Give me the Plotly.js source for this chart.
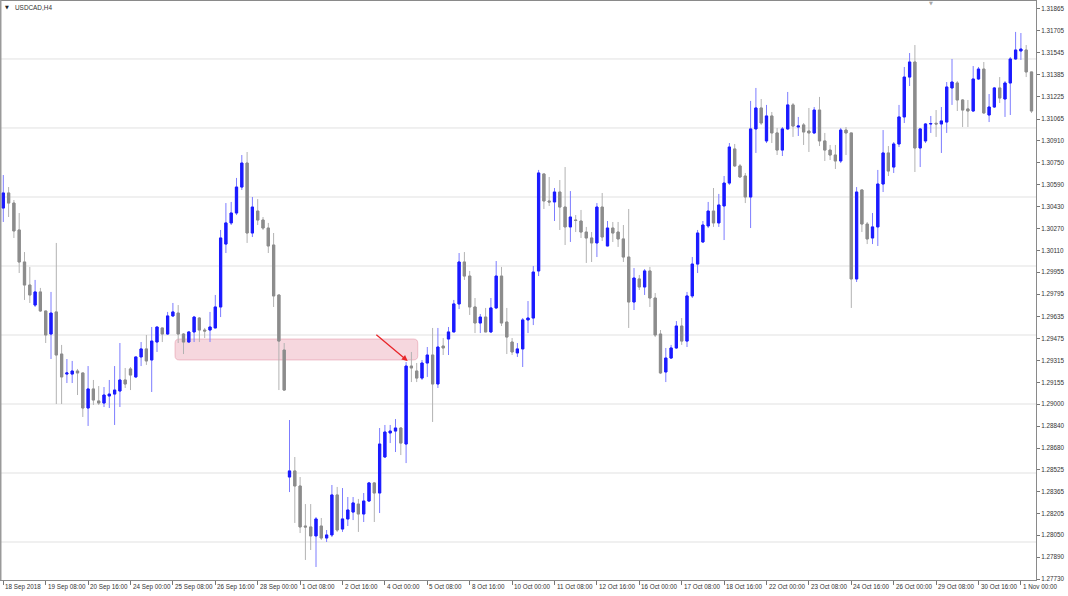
<!DOCTYPE html>
<html><head><meta charset="utf-8">
<script src="https://cdn.plot.ly/plotly-3.0.1.min.js"></script>
<style>html,body{margin:0;padding:0;background:#fff;}#chart{width:1068px;height:596px;}</style>
</head><body><div id="chart"></div>
<script>
// USDCAD H4 bars, 18 Sep 2018 00:00 .. 1 Nov 2018 08:00 (one entry per bar)
const openP = [
1.30420,1.30529,1.30456,1.30261,1.30029,1.29862,1.29717,1.29812,1.29674,1.29507,
1.29667,1.29362,1.29217,1.29217,1.29239,1.29225,1.28971,1.29109,1.29022,1.29007,
1.29058,1.29072,1.29094,1.29174,1.29254,1.29196,1.29341,1.29399,1.29319,1.29449,
1.29551,1.29507,1.29638,1.29659,1.29507,1.29449,1.29522,1.29623,1.29536,1.29536,
1.29551,1.29703,1.30159,1.30312,1.30384,1.30572,1.30746,1.30239,1.30398,1.30333,
1.30275,1.30152,1.29790,1.29391,1.28471,1.28515,1.28406,1.28116,1.28109,1.28044,
1.28116,1.28029,1.28051,1.28341,1.28094,1.28167,1.28217,1.28275,1.28203,1.28297,
1.28428,1.28355,1.28616,1.28790,1.28804,1.28826,1.28710,1.29275,1.29239,1.29188,
1.29297,1.29355,1.29145,1.29420,1.29471,1.29522,1.29725,1.30029,1.29927,1.29703,
1.29587,1.29630,1.29522,1.29696,1.29927,1.29594,1.29449,1.29370,1.29399,1.29609,
1.29623,1.29964,1.30667,1.30471,1.30464,1.30536,1.30427,1.30283,1.30333,1.30326,
1.30246,1.30203,1.30167,1.30427,1.30145,1.30275,1.30246,1.30196,1.30065,1.29739,
1.29906,1.29848,1.29964,1.29768,1.29507,1.29232,1.29333,1.29406,1.29565,1.29456,
1.29783,1.30014,1.30174,1.30290,1.30398,1.30312,1.30435,1.30601,1.30848,1.30725,
1.30652,1.30500,1.30993,1.31145,1.30906,1.31087,1.30964,1.30840,1.30993,1.31167,
1.31007,1.31022,1.30978,1.30964,1.31130,1.30906,1.30840,1.30804,1.30761,1.30985,
1.30964,1.29906,1.30551,1.30304,1.30203,1.30283,1.30594,1.30819,1.30717,1.30884,
1.31080,1.31369,1.31478,1.30855,1.30906,1.31029,1.31034,1.31029,1.31043,1.31290,
1.31326,1.31203,1.31138,1.31123,1.31355,1.31427,1.31094,1.31152,1.31290,1.31210,
1.31326,1.31500,1.31558,1.31565,1.31406];
const highP = [
1.30659,1.30572,1.30478,1.30384,1.30101,1.29993,1.29899,1.29841,1.29674,1.29812,
1.30167,1.29428,1.29326,1.29312,1.29254,1.29225,1.29275,1.29174,1.29130,1.29123,
1.29174,1.29275,1.29442,1.29261,1.29268,1.29341,1.29449,1.29500,1.29558,1.29558,
1.29551,1.29667,1.29732,1.29717,1.29514,1.29529,1.29638,1.29630,1.29551,1.29667,
1.29790,1.30261,1.30456,1.30464,1.30638,1.30804,1.30826,1.30500,1.30485,1.30355,
1.30312,1.30239,1.29790,1.29442,1.28884,1.28616,1.28471,1.28275,1.28275,1.28181,
1.28174,1.28087,1.28413,1.28399,1.28391,1.28326,1.28326,1.28312,1.28355,1.28435,
1.28435,1.28826,1.28848,1.28848,1.28891,1.28833,1.29304,1.29377,1.29297,1.29319,
1.29413,1.29551,1.29551,1.29478,1.29558,1.29754,1.30094,1.30101,1.29964,1.29768,
1.29652,1.29696,1.29768,1.30036,1.29993,1.29696,1.29478,1.29442,1.29623,1.29746,
1.30000,1.30696,1.30667,1.30645,1.30565,1.30623,1.30717,1.30543,1.30369,1.30406,
1.30283,1.30246,1.30456,1.30529,1.30326,1.30319,1.30319,1.30297,1.30413,1.29985,
1.29935,1.29978,1.29993,1.29804,1.29536,1.29406,1.29428,1.29601,1.29623,1.29812,
1.30065,1.30261,1.30326,1.30464,1.30565,1.30522,1.30652,1.30891,1.30884,1.30739,
1.30674,1.31196,1.31290,1.31210,1.31167,1.31116,1.31000,1.31007,1.31261,1.31181,
1.31080,1.31036,1.31145,1.31152,1.31225,1.30964,1.30877,1.30877,1.31000,1.31007,
1.30964,1.30572,1.30551,1.30319,1.30384,1.30696,1.30985,1.30869,1.30898,1.31167,
1.31442,1.31543,1.31601,1.31000,1.31036,1.31087,1.31130,1.31152,1.31333,1.31500,
1.31340,1.31210,1.31203,1.31449,1.31442,1.31478,1.31246,1.31297,1.31369,1.31340,
1.31514,1.31696,1.31688,1.31601,1.31406];
const lowP = [
1.30319,1.30355,1.30203,1.29949,1.29754,1.29732,1.29703,1.29667,1.29442,1.29326,
1.29000,1.29000,1.29152,1.29152,1.29065,1.28906,1.28841,1.28993,1.28993,1.28978,
1.28971,1.28848,1.28978,1.29116,1.29101,1.29188,1.29275,1.29283,1.29087,1.29377,
1.29449,1.29500,1.29630,1.29442,1.29362,1.29442,1.29449,1.29449,1.29478,1.29449,
1.29551,1.29630,1.30094,1.30297,1.30369,1.30551,1.30167,1.30210,1.30297,1.30261,
1.30094,1.29703,1.29101,1.29094,1.28362,1.28138,1.28065,1.27870,1.27942,1.27819,
1.28015,1.28000,1.28036,1.28073,1.28073,1.28116,1.28159,1.28073,1.28145,1.28290,
1.28145,1.28210,1.28609,1.28717,1.28652,1.28630,1.28572,1.29159,1.29159,1.29174,
1.29196,1.28870,1.29116,1.29355,1.29355,1.29522,1.29688,1.29899,1.29645,1.29514,
1.29514,1.29522,1.29514,1.29688,1.29565,1.29362,1.29355,1.29341,1.29268,1.29514,
1.29572,1.29927,1.30413,1.30435,1.30326,1.30261,1.30152,1.30174,1.30246,1.30203,
1.30022,1.30029,1.30065,1.30181,1.30145,1.30174,1.30138,1.30029,1.29551,1.29681,
1.29826,1.29790,1.29703,1.29485,1.29217,1.29159,1.29326,1.29399,1.29428,1.29413,
1.29768,1.29949,1.30167,1.30275,1.30283,1.30283,1.30188,1.30587,1.30717,1.30638,
1.30456,1.30275,1.30819,1.31022,1.30891,1.30891,1.30804,1.30797,1.30985,1.30935,
1.30942,1.30877,1.30826,1.30956,1.30869,1.30761,1.30768,1.30703,1.30746,1.30804,
1.29696,1.29884,1.30246,1.30159,1.30159,1.30145,1.30536,1.30652,1.30674,1.30862,
1.31036,1.31304,1.30681,1.30717,1.30891,1.30964,1.30935,1.30819,1.30964,1.31167,
1.31123,1.31007,1.31007,1.31116,1.31348,1.31101,1.31043,1.31145,1.31181,1.31080,
1.31094,1.31493,1.31493,1.31369,1.31109];
const closeP = [
1.30529,1.30456,1.30254,1.30029,1.29862,1.29790,1.29812,1.29674,1.29500,1.29659,
1.29355,1.29196,1.29225,1.29239,1.29225,1.28971,1.29109,1.29029,1.29007,1.29065,
1.29072,1.29101,1.29174,1.29145,1.29210,1.29341,1.29399,1.29312,1.29456,1.29558,
1.29507,1.29638,1.29667,1.29507,1.29449,1.29522,1.29630,1.29536,1.29529,1.29558,
1.29703,1.30203,1.30312,1.30384,1.30572,1.30746,1.30239,1.30427,1.30333,1.30275,
1.30145,1.29783,1.29456,1.29101,1.28515,1.28406,1.28109,1.28109,1.28044,1.28167,
1.28029,1.28051,1.28341,1.28087,1.28167,1.28232,1.28283,1.28203,1.28297,1.28428,
1.28355,1.28710,1.28797,1.28804,1.28826,1.28717,1.29275,1.29261,1.29188,1.29297,
1.29355,1.29145,1.29413,1.29406,1.29522,1.29725,1.30029,1.29927,1.29703,1.29587,
1.29630,1.29522,1.29696,1.29927,1.29587,1.29485,1.29377,1.29399,1.29609,1.29623,
1.29956,1.30674,1.30471,1.30464,1.30536,1.30427,1.30283,1.30355,1.30330,1.30246,
1.30203,1.30167,1.30427,1.30210,1.30275,1.30239,1.30196,1.30065,1.29739,1.29913,
1.29848,1.29964,1.29768,1.29500,1.29225,1.29333,1.29406,1.29565,1.29456,1.29783,
1.30014,1.30239,1.30297,1.30398,1.30312,1.30442,1.30601,1.30862,1.30725,1.30645,
1.30500,1.30993,1.31145,1.31036,1.31087,1.30964,1.30840,1.30993,1.31167,1.31014,
1.31014,1.30971,1.30964,1.31130,1.30906,1.30840,1.30804,1.30761,1.30985,1.30964,
1.29906,1.30536,1.30304,1.30196,1.30283,1.30594,1.30819,1.30688,1.30884,1.31080,
1.31369,1.31478,1.30855,1.30993,1.31029,1.31032,1.31029,1.31051,1.31297,1.31333,
1.31203,1.31130,1.31123,1.31355,1.31427,1.31109,1.31152,1.31290,1.31217,1.31326,
1.31500,1.31565,1.31572,1.31406,1.31123];

// time-axis labels (every 8th H4 bar)
const xTickIdx = [0,8,16,24,32,40,48,56,64,72,80,88,96,104,112,120,128,136,144,152,160,168,176,184,192];
const xTickText = ["18 Sep 2018","19 Sep 08:00","20 Sep 16:00","24 Sep 00:00","25 Sep 08:00","26 Sep 16:00",
"28 Sep 00:00","1 Oct 08:00","2 Oct 16:00","4 Oct 00:00","5 Oct 08:00","8 Oct 16:00","10 Oct 00:00",
"11 Oct 08:00","12 Oct 16:00","16 Oct 00:00","17 Oct 08:00","18 Oct 16:00","22 Oct 00:00","23 Oct 08:00",
"24 Oct 16:00","26 Oct 00:00","29 Oct 08:00","30 Oct 16:00","1 Nov 00:00"];
// price-scale labels
const yTicks = [1.31865,1.31705,1.31545,1.31385,1.31225,1.31065,1.30910,1.30750,1.30590,1.30430,
1.30270,1.30110,1.29955,1.29795,1.29635,1.29475,1.29315,1.29155,1.29000,1.28840,1.28680,
1.28525,1.28365,1.28205,1.28050,1.27890,1.27730];
const gridLevels = [1.280,1.285,1.290,1.295,1.300,1.305,1.310,1.315];

// drawn objects: zone rectangle and arrow
const zone = {x0: 32.4, x1: 78.2, y0: 1.29319, y1: 1.29471};
const arrow = {x: 76.3, y: 1.29312, ax: 70.1, ay: 1.29511};

const FONT = 'Liberation Sans, Arial, sans-serif';
const idx = openP.map((_, i) => i);
const bodyHi = openP.map((o, i) => Math.max(o, closeP[i]));
const bodyLo = openP.map((o, i) => Math.min(o, closeP[i]));

const wicks = {
  type: 'candlestick', x: idx, open: openP, high: highP, low: lowP, close: closeP,
  increasing: {line: {color: '#7c7cff', width: 1}, fillcolor: '#7c7cff'},
  decreasing: {line: {color: '#b2b2b2', width: 1}, fillcolor: '#b2b2b2'},
  hoverinfo: 'skip', showlegend: false
};
const bodies = {
  type: 'candlestick', x: idx, open: openP, high: bodyHi, low: bodyLo, close: closeP,
  increasing: {line: {color: '#1a1aff', width: 1}, fillcolor: '#1a1aff'},
  decreasing: {line: {color: '#8c8c8c', width: 1}, fillcolor: '#8c8c8c'},
  hoverinfo: 'skip', showlegend: false
};

const rx = 0.8, ry = 0.0003;
const zp = `M ${zone.x0+rx},${zone.y0} L ${zone.x1-rx},${zone.y0} Q ${zone.x1},${zone.y0} ${zone.x1},${zone.y0+ry} ` +
  `L ${zone.x1},${zone.y1-ry} Q ${zone.x1},${zone.y1} ${zone.x1-rx},${zone.y1} L ${zone.x0+rx},${zone.y1} ` +
  `Q ${zone.x0},${zone.y1} ${zone.x0},${zone.y1-ry} L ${zone.x0},${zone.y0+ry} Q ${zone.x0},${zone.y0} ${zone.x0+rx},${zone.y0} Z`;

const shapes = gridLevels.map(v => ({
  type: 'line', xref: 'paper', x0: 0, x1: 1, yref: 'y', y0: v, y1: v,
  line: {color: '#e1e1e1', width: 1}, layer: 'below'
}));
shapes.push({type: 'path', xref: 'x', yref: 'y', path: zp,
  fillcolor: 'rgba(230,140,160,0.35)', line: {color: 'rgba(225,130,150,0.45)', width: 1}, layer: 'between'});
// left window edge
shapes.push({type: 'line', xref: 'paper', yref: 'paper', x0: -0.0005, x1: -0.0005, y0: 0, y1: 1.002,
  line: {color: '#9a9a9a', width: 2}});

const annotations = xTickText.map((t, i) => ({
  x: xTickIdx[i], xref: 'x', y: 0, yref: 'paper', xanchor: 'left', yanchor: 'top',
  yshift: -1, xshift: 0, text: t, showarrow: false,
  font: {family: FONT, size: 6.3, color: '#333'}
}));
annotations.push({x: 5.5 / 1035, xref: 'paper', y: (580 - 7.5) / 579, yref: 'paper', xanchor: 'center', yanchor: 'middle',
  text: '▼', showarrow: false, font: {family: 'DejaVu Sans', size: 5, color: '#222'}});
annotations.push({x: 12 / 1035, xref: 'paper', y: (580 - 7.5) / 579, yref: 'paper', xanchor: 'left', yanchor: 'middle',
  text: 'USDCAD,H4', showarrow: false, font: {family: FONT, size: 6.4, color: '#333'}});
annotations.push({x: 930 / 1035, xref: 'paper', y: (580 - 3) / 579, yref: 'paper', xanchor: 'center', yanchor: 'middle',
  text: '▼', showarrow: false, font: {family: 'DejaVu Sans', size: 5, color: '#a8a8a8'}});
annotations.push({x: arrow.x, y: arrow.y, xref: 'x', yref: 'y', ax: arrow.ax, ay: arrow.ay, axref: 'x', ayref: 'y',
  text: '', showarrow: true, arrowhead: 2, arrowsize: 0.9, arrowwidth: 1.3, arrowcolor: '#e8262a', standoff: 0});

const layout = {
  width: 1068, height: 596,
  margin: {l: 1, r: 32, t: 1, b: 16, pad: 0},
  paper_bgcolor: '#ffffff', plot_bgcolor: '#ffffff',
  showlegend: false, boxmode: 'overlay', boxgap: 0.4,
  font: {family: FONT, size: 6.3, color: '#333'},
  xaxis: {
    range: [-0.434, 194.85], tickmode: 'array', tickvals: xTickIdx, showticklabels: false,
    ticks: 'outside', ticklen: 4, tickcolor: '#777', tickwidth: 1,
    showgrid: false, zeroline: false, showline: true, linecolor: '#8a8a8a', linewidth: 1, mirror: true,
    rangeslider: {visible: false}, fixedrange: true
  },
  yaxis: {
    side: 'right', range: [1.277247, 1.319201], tickmode: 'array', tickvals: yTicks, tickformat: '.5f',
    ticks: 'outside', ticklen: 3, tickcolor: '#777', tickwidth: 1,
    tickfont: {family: FONT, size: 6.3, color: '#333'},
    showgrid: false, zeroline: false, showline: true, linecolor: '#8a8a8a', linewidth: 1, mirror: true,
    fixedrange: true
  },
  shapes: shapes,
  annotations: annotations
};

Plotly.newPlot('chart', [wicks, bodies], layout, {displayModeBar: false, staticPlot: true});
</script>
</body></html>
